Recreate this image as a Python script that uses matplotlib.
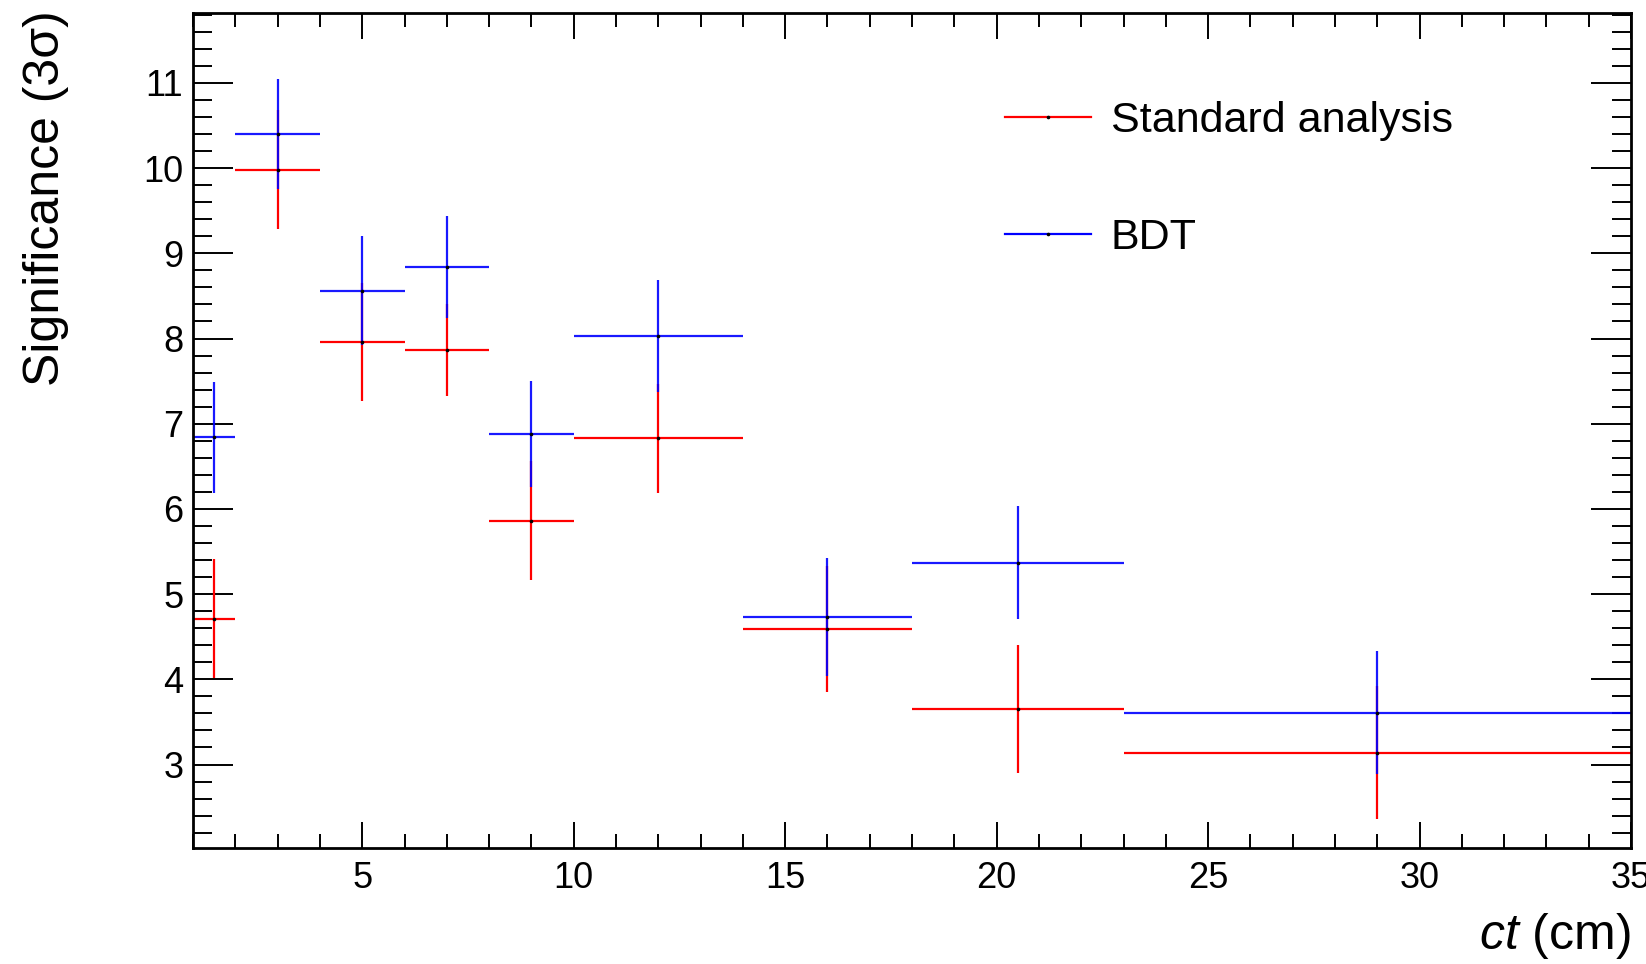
import numpy as np
import matplotlib
matplotlib.use("Agg")
import matplotlib.pyplot as plt
from matplotlib.lines import Line2D
from matplotlib.ticker import MultipleLocator

plt.rcParams['font.family'] = ['Liberation Sans', 'DejaVu Sans']
plt.rcParams['mathtext.fontset'] = 'custom'
plt.rcParams['mathtext.rm'] = 'Liberation Sans'
plt.rcParams['mathtext.it'] = 'Liberation Sans:italic'

# ct bins (cm)
bin_edges = [1, 2, 4, 6, 8, 10, 14, 18, 23, 35]

# Standard analysis
std_sig = [4.71, 9.98, 7.96, 7.86, 5.86, 6.83, 4.59, 3.65, 3.14]
std_err = [0.70, 0.70, 0.69, 0.54, 0.70, 0.64, 0.74, 0.75, 0.78]

# BDT
bdt_sig = [6.84, 10.40, 8.56, 8.84, 6.88, 8.03, 4.73, 5.37, 3.61]
bdt_err = [0.65, 0.64, 0.64, 0.60, 0.62, 0.66, 0.69, 0.66, 0.72]

edges = np.array(bin_edges, dtype=float)
centers = 0.5 * (edges[:-1] + edges[1:])
xerr = [centers - edges[:-1], edges[1:] - centers]

fig = plt.figure(figsize=(16.46, 9.64), dpi=100)
ax = fig.add_axes([0.1173, 0.1203, 0.8736, 0.8662])

ax.errorbar(centers, std_sig, xerr=xerr, yerr=std_err, fmt='none',
            ecolor=(1, 0, 0), elinewidth=1.6, capsize=0)
ax.errorbar(centers, bdt_sig, xerr=xerr, yerr=bdt_err, fmt='none',
            ecolor=(0, 0, 1), elinewidth=1.6, capsize=0, alpha=0.9)
ax.plot(centers, std_sig, 'o', color='black', markersize=1.6, linestyle='none')
ax.plot(centers, bdt_sig, 'o', color='black', markersize=1.6, linestyle='none')

ax.set_xlim(1, 35)
ax.set_ylim(2.02, 11.82)

ax.xaxis.set_major_locator(MultipleLocator(5))
ax.xaxis.set_minor_locator(MultipleLocator(1))
ax.yaxis.set_major_locator(MultipleLocator(1))
ax.yaxis.set_minor_locator(MultipleLocator(0.2))

ax.tick_params(which='both', direction='in', top=True, right=True,
               labelsize=26, width=1.4, color='black')
ax.tick_params(axis='x', which='major', length=19, pad=9)
ax.tick_params(axis='x', which='minor', length=10)
ax.tick_params(axis='y', which='major', length=29, pad=7)
ax.tick_params(axis='y', which='minor', length=14)
for s in ax.spines.values():
    s.set_linewidth(2.0)

ax.text(-0.102, 1.003, 'Significance (3σ)', transform=ax.transAxes,
        rotation=90, ha='center', va='top', fontsize=36)
fig.text(0.9909, 0.003, r'$ct$ (cm)', ha='right', va='bottom', fontsize=36)

handles = [
    Line2D([], [], color=(1, 0, 0), lw=1.6, marker='o', markersize=1.6,
           markerfacecolor='black', markeredgecolor='black'),
    Line2D([], [], color=(0, 0, 1), lw=1.6, marker='o', markersize=1.6,
           markerfacecolor='black', markeredgecolor='black'),
]
ax.legend(handles, ['Standard analysis', 'BDT'], loc='upper left',
          bbox_to_anchor=(0.6106, 0.895), bbox_transform=fig.transFigure,
          frameon=False, fontsize=31, handlelength=2.0, handletextpad=0.45,
          labelspacing=1.78, borderpad=0, borderaxespad=0)

fig.savefig('out.png', dpi=100)
